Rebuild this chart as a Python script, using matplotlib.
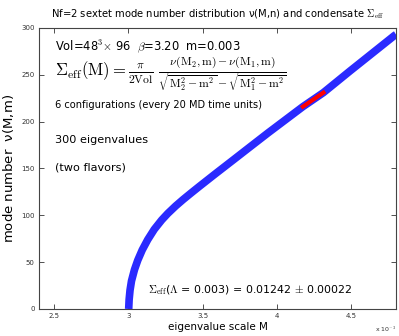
import matplotlib
matplotlib.use('Agg')
import matplotlib.pyplot as plt
from matplotlib.ticker import FuncFormatter

plt.rcParams['mathtext.fontset'] = 'cm'
plt.rcParams['font.family'] = 'DejaVu Sans'

# eigenvalue scale M (units of 1e-3) and mode number nu(M,m)
M_vals = [3.003, 3.006, 3.012, 3.022, 3.042, 3.064, 3.094, 3.131, 3.175, 3.225,
          3.266, 3.319, 3.370, 3.424, 3.479, 3.535, 3.583, 3.648, 3.713, 3.802,
          3.875, 3.940, 4.174, 4.312, 4.490, 4.790, 4.800]
nu_vals = [0, 10, 20, 30, 42, 52, 63, 74, 85, 95,
           102, 110, 117, 124, 131, 138, 144, 152, 160, 171,
           180, 188, 216, 231, 254, 292, 293]

# fit window for Sigma_eff (red segment)
fit_M = [4.174, 4.312]
fit_nu = [216, 231]

xticks = [2.5, 3.0, 3.5, 4.0, 4.5]
yticks = [0, 50, 100, 150, 200, 250, 300]

fig = plt.figure(figsize=(3.99, 3.36), dpi=100)
ax = fig.add_axes([0.0977, 0.0804, 0.8948, 0.8363])

ax.plot(M_vals, nu_vals, color='#2a2aff', lw=5.5, solid_capstyle='butt',
        solid_joinstyle='round', zorder=2)
ax.plot(fit_M, fit_nu, color='#ff0000', lw=3, zorder=3)

ax.set_xlim(2.4, 4.8)
ax.set_ylim(0, 300)
ax.set_xticks(xticks)
ax.set_yticks(yticks)
ax.xaxis.set_major_formatter(FuncFormatter(lambda v, p: '%g' % v))
ax.tick_params(direction='in', length=3.5, width=0.6, labelsize=5,
               colors='#333333', top=True, right=True, pad=3)
for s in ax.spines.values():
    s.set_color('#444444')
    s.set_linewidth(0.8)

ax.set_xlabel('eigenvalue scale M', fontsize=7.5, labelpad=2)
ax.set_ylabel(r'mode number  $\mathregular{\nu}$(M,m)', fontsize=9.5, labelpad=4)
ax.set_title(r'Nf=2 sextet mode number distribution $\mathregular{\nu}$(M,n) and condensate $\Sigma_{\rm eff}$',
             fontsize=7.2, pad=8)
fig.text(0.94, 0.012, r'x 10$^{-3}$', fontsize=4.5, color='#333333')

ax.text(2.51, 279, r'Vol=48$^3$$\times$ 96  $\beta$=3.20  m=0.003', fontsize=8.3, va='center')
ax.text(2.51, 250,
        r'$\Sigma_{\rm eff}({\rm M}) = \frac{\pi}{2{\rm Vol}}\ '
        r'\frac{\nu({\rm M_2,m})-\nu({\rm M_1,m})}'
        r'{\sqrt{{\rm M_2^2-m^2}}-\sqrt{{\rm M_1^2-m^2}}}$', fontsize=12, va='center')
ax.text(2.51, 218, '6 configurations (every 20 MD time units)', fontsize=7.1, va='center')
ax.text(2.51, 180, '300 eigenvalues', fontsize=8.1, va='center')
ax.text(2.51, 151, '(two flavors)', fontsize=8.1, va='center')
ax.text(3.13, 20, r'$\Sigma_{\rm eff}$($\Lambda$ = 0.003) = 0.01242 $\pm$ 0.00022',
        fontsize=7.9, va='center')

fig.savefig('out.png', dpi=100)
